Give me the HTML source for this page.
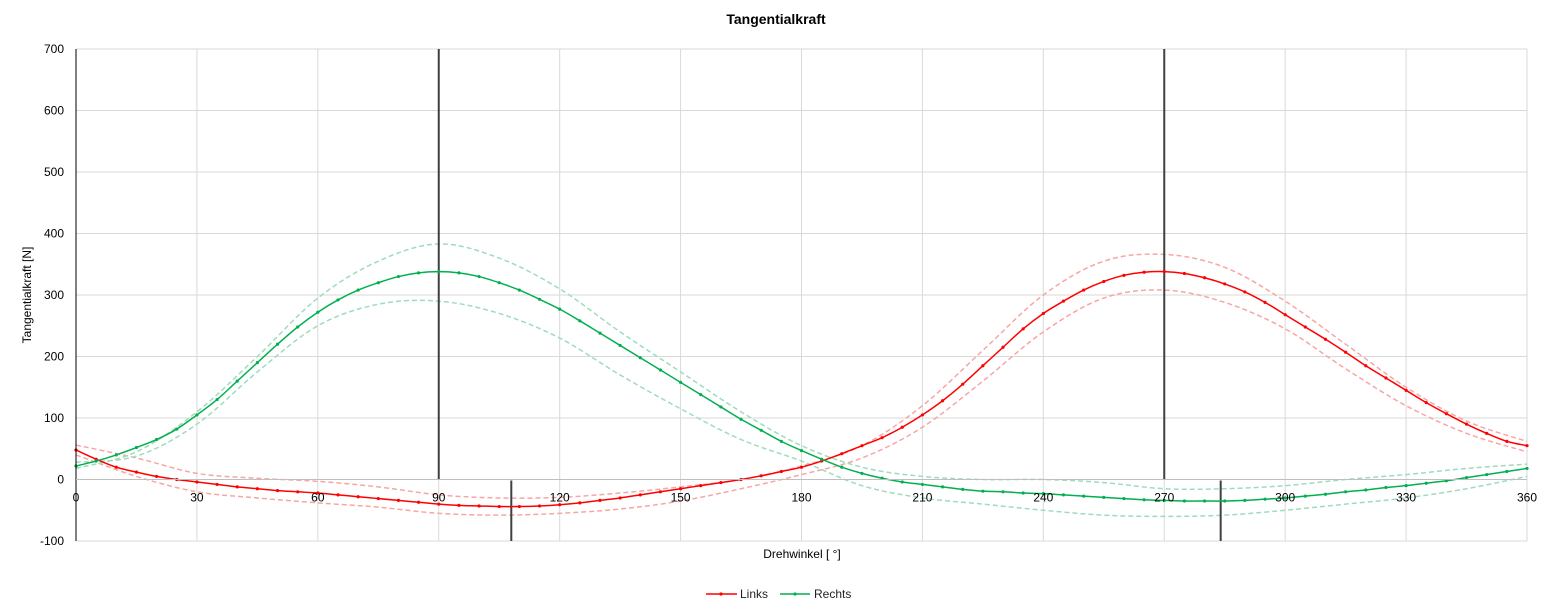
<!DOCTYPE html>
<html><head><meta charset="utf-8"><style>
body{margin:0;background:#fff;font-family:"Liberation Sans",sans-serif}
svg{display:block}
</style></head><body>
<svg id="chart" width="1553" height="616" xmlns="http://www.w3.org/2000/svg" font-family="Liberation Sans, sans-serif">
<text x="776" y="24" text-anchor="middle" font-size="14" font-weight="bold" fill="#000">Tangentialkraft</text>
<text transform="translate(31,295) rotate(-90)" text-anchor="middle" font-size="12" fill="#000">Tangentialkraft [N]</text>
<text x="802" y="558" text-anchor="middle" font-size="12" fill="#000">Drehwinkel [ °]</text>
<g id="grid"></g>
<g id="series"></g>
<g id="axes"></g>
<g>
<g><line x1="706" y1="594" x2="737" y2="594" stroke="#ff0000" stroke-width="1.5"/><circle cx="721" cy="594" r="1.6" fill="#ff0000"/><text x="740" y="598" font-size="12" fill="#222">Links</text></g>
<g><line x1="780" y1="594" x2="810" y2="594" stroke="#00b050" stroke-width="1.5"/><circle cx="795" cy="594" r="1.6" fill="#00b050"/><text x="814" y="598" font-size="12" fill="#222">Rechts</text></g>
</g>
</svg>
<script>
const xTicks=[0,30,60,90,120,150,180,210,240,270,300,330,360];
const yTicks=[-100,0,100,200,300,400,500,600,700];
const linksMain=[48,33,20,12,5,0,-4,-8,-12,-15,-18,-20,-22,-25,-28,-31,-34,-37,-40,-42,-43,-44,-44,-43,-41,-38,-34,-30,-25,-20,-15,-10,-5,0,6,13,20,30,42,55,68,85,105,128,155,185,215,245,270,290,308,322,332,337,338,335,328,318,305,288,268,248,228,207,185,165,145,125,107,90,75,62,55];
const rechtsMain=[22,30,40,52,65,82,105,130,160,190,220,248,272,292,308,320,330,336,338,336,330,320,308,293,277,258,238,218,198,178,158,138,118,98,80,62,47,33,20,10,2,-4,-8,-12,-16,-19,-20,-22,-23,-25,-27,-29,-31,-33,-34,-35,-35,-35,-34,-32,-30,-27,-24,-20,-17,-13,-10,-6,-2,3,8,13,18];
const linksUpper=[56,35,10,2,-3,-12,-25,-30,-29,-22,-12,0,22,55,120,210,300,355,366,345,290,220,150,95,62];
const linksLower=[40,5,-20,-30,-38,-45,-55,-58,-55,-48,-35,-15,8,35,85,160,240,295,308,288,245,180,120,75,45];
const rechtsUpper=[18,45,110,200,295,355,383,360,310,240,175,110,55,20,5,0,0,-5,-15,-15,-10,0,8,18,25];
const rechtsLower=[28,38,90,175,250,285,290,270,230,170,115,65,30,-10,-30,-40,-50,-58,-60,-58,-50,-40,-30,-15,5];
const markerLines=[{a:90,top:true},{a:270,top:true},{a:108,top:false},{a:284,top:false}];
const X0=76,X1=1527,Y0=49,Y1=541;
const xs=a=>X0+(a)/360*(X1-X0);
const ys=v=>Y0+(700-v)/800*(Y1-Y0);
const NS="http://www.w3.org/2000/svg";
function mk(t,at,p){const e=document.createElementNS(NS,t);for(const k in at)e.setAttribute(k,at[k]);p.appendChild(e);return e;}
const grid=document.getElementById('grid'),axes=document.getElementById('axes'),ser=document.getElementById('series');
xTicks.forEach(t=>{if(t===0)return;const l=mk('line',{x1:xs(t),x2:xs(t),y1:Y0,y2:Y1,stroke:'#d9d9d9','stroke-width':1},grid);

});
yTicks.forEach(t=>{const l=mk('line',{x1:X0,x2:X1,y1:ys(t),y2:ys(t),stroke:'#d9d9d9','stroke-width':1},grid);


const tx=mk('text',{x:64,y:ys(t)+4,'text-anchor':'end','font-size':12,fill:'#000'},axes);tx.textContent=t;

});
xTicks.forEach(t=>{const tx=mk('text',{x:xs(t),y:ys(0)+22,'text-anchor':'middle','font-size':12,fill:'#000'},axes);tx.textContent=t;

});
const ya=mk('line',{x1:X0,x2:X0,y1:Y0,y2:Y1,stroke:'#000','stroke-width':1},axes);


const xa=mk('line',{x1:X0,x2:X1,y1:ys(0),y2:ys(0),stroke:'#bfbfbf','stroke-width':1},axes);


function path(vals,step){const pts=vals.map((v,i)=>[xs(i*step),ys(v)]);let d='M'+pts[0][0]+','+pts[0][1];
for(let i=0;i<pts.length-1;i++){const p0=pts[Math.max(0,i-1)],p1=pts[i],p2=pts[i+1],p3=pts[Math.min(pts.length-1,i+2)];
const c1=[p1[0]+(p2[0]-p0[0])/6,p1[1]+(p2[1]-p0[1])/6],c2=[p2[0]-(p3[0]-p1[0])/6,p2[1]-(p3[1]-p1[1])/6];
d+=' C'+c1+' '+c2+' '+p2;}return d;}
[[linksUpper,'#f7a6a6','links-upper-band'],[linksLower,'#f7a6a6','links-lower-band'],[rechtsUpper,'#9fdcbc','rechts-upper-band'],[rechtsLower,'#9fdcbc','rechts-lower-band']].forEach(s=>{
const p=mk('path',{d:path(s[0],15),fill:'none',stroke:s[1],'stroke-width':1.5,'stroke-dasharray':'5,3'},ser);

});
markerLines.forEach(m=>{const l=mk('line',{x1:xs(m.a),x2:xs(m.a),y1:m.top?Y0:ys(0)+1,y2:m.top?ys(0):Y1,stroke:'#404040','stroke-width':2},ser);

});
[[linksMain,'#ff0000','links-line'],[rechtsMain,'#00b050','rechts-line']].forEach(s=>{
const p=mk('path',{d:path(s[0],5),fill:'none',stroke:s[1],'stroke-width':1.5},ser);


s[0].forEach((v,i)=>{const c=mk('circle',{cx:xs(i*5),cy:ys(v),r:1.6,fill:s[1]},ser);

});});
</script>
</body></html>
